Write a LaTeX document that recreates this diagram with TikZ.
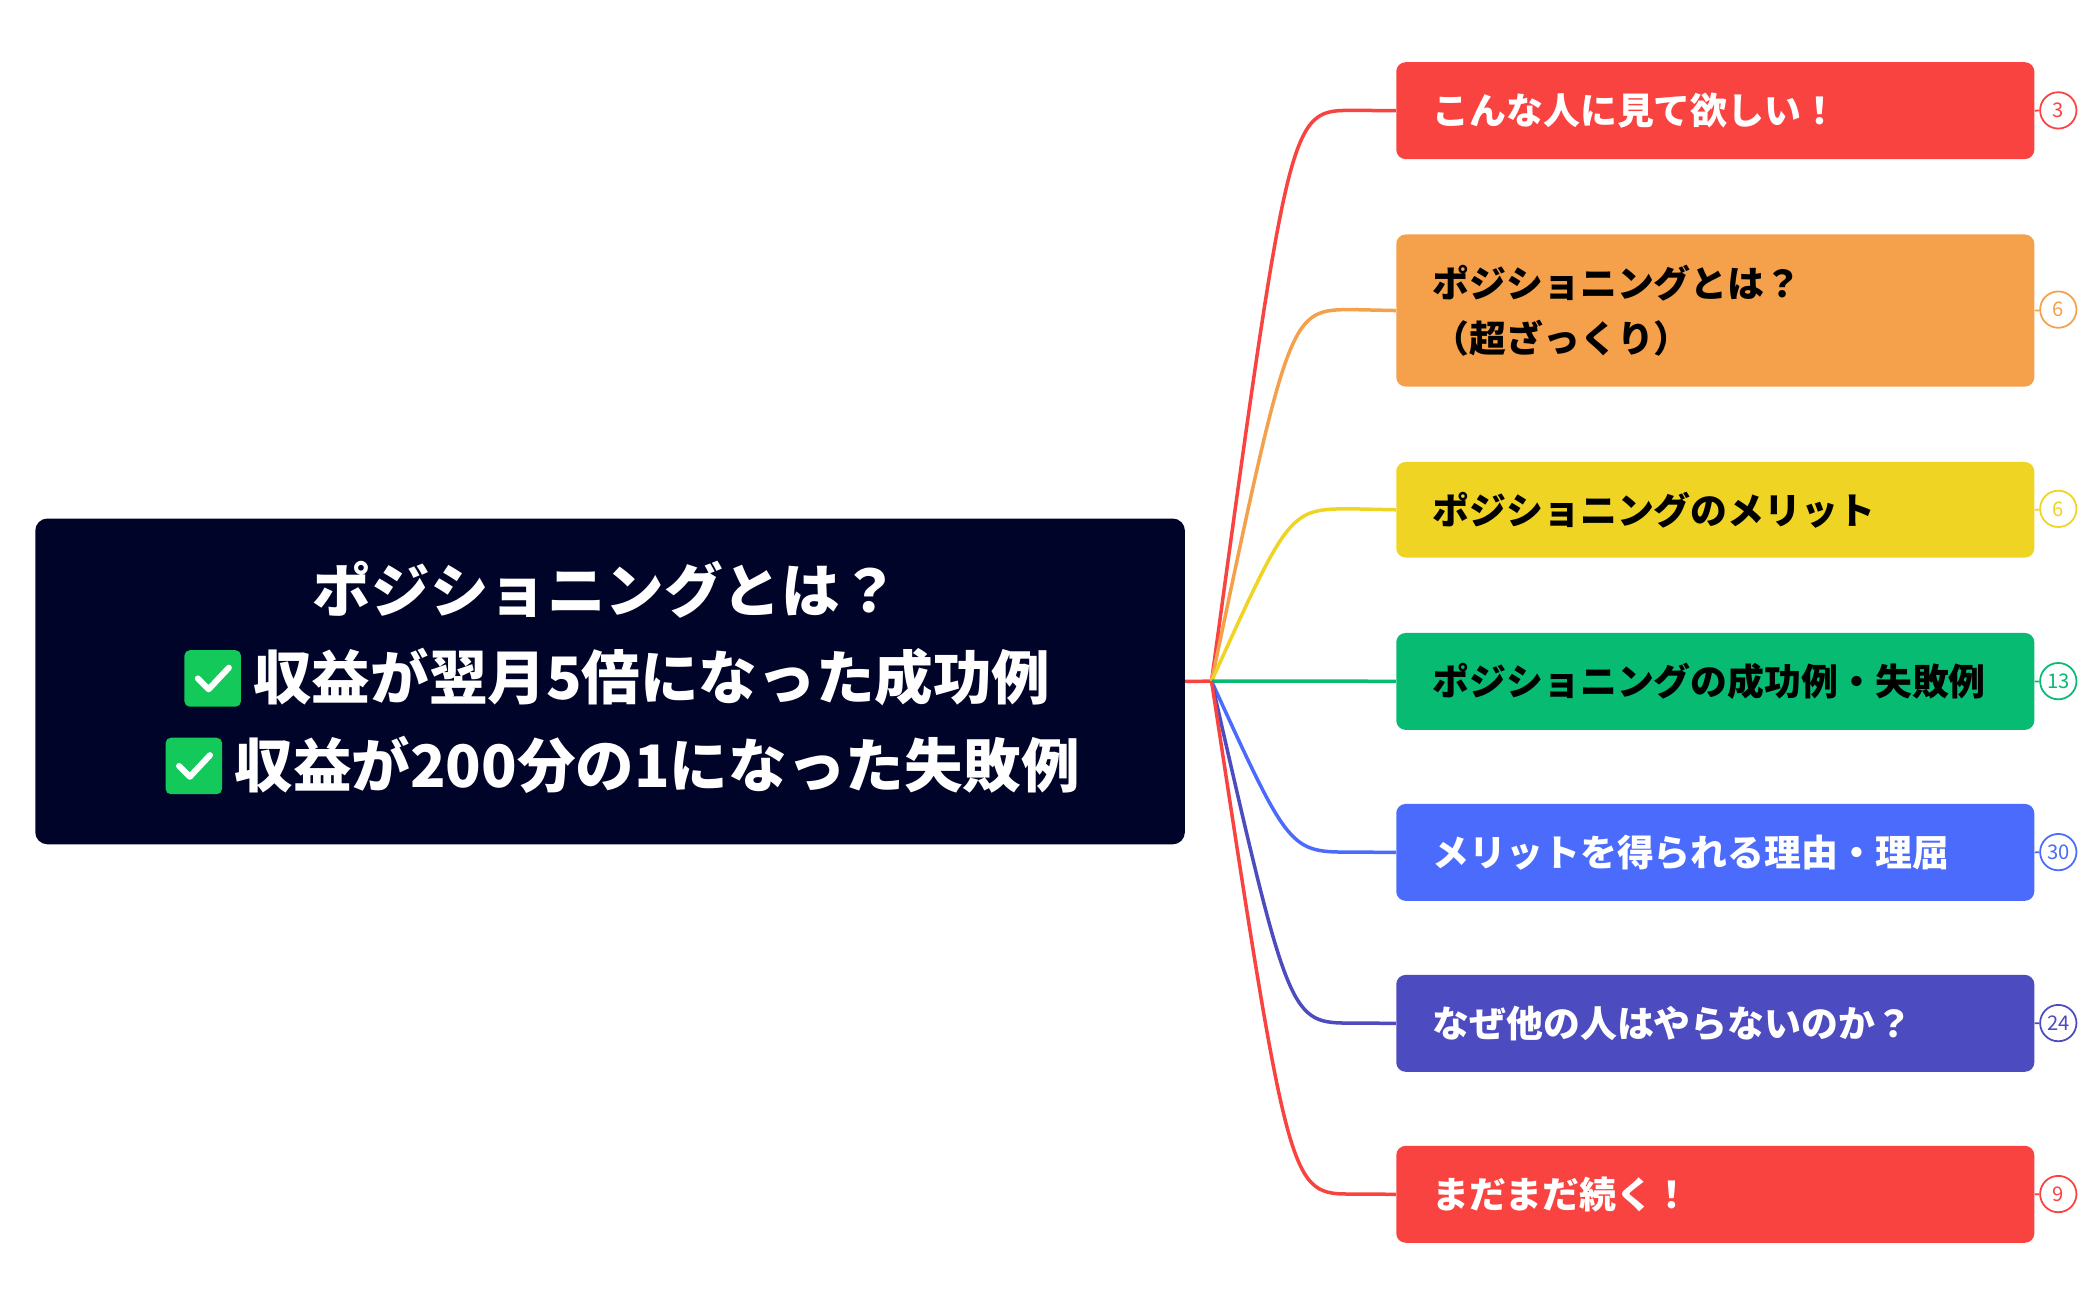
\documentclass[tikz,border=0pt]{standalone}
\usepackage{fontspec}
\usetikzlibrary{calc}
\newfontfamily\cjk{Noto Sans CJK JP}
\definecolor{navy}{HTML}{000429}
\definecolor{cred}{HTML}{F94340}
\definecolor{corange}{HTML}{F5A04A}
\definecolor{cyellow}{HTML}{F0D423}
\definecolor{cgreen}{HTML}{07BB72}
\definecolor{cblue}{HTML}{4A6BFB}
\definecolor{cindigo}{HTML}{4C4BBF}
\definecolor{ccheck}{HTML}{12C95A}
\begin{document}
\begin{tikzpicture}[x=1pt,y=-1pt,
  br/.style={rounded corners=7pt,minimum width=474pt,text width=420pt,align=left,inner xsep=27pt,anchor=north west,font=\cjk\bfseries\fontsize{27.4}{41}\selectfont},
  badge/.style={circle,draw=#1,fill=white,minimum size=27pt,inner sep=0pt,line width=1.3pt,text=#1,font=\cjk\fontsize{15}{15}\selectfont},
  conn/.style={line width=2.6pt},
  chk/.style={fill=ccheck,rounded corners=4pt,minimum size=42pt,inner sep=0pt},
  big/.style={text=white,inner sep=0pt,font=\cjk\bfseries\fontsize{43.5}{43.5}\selectfont}]
\useasboundingbox (0,0) rectangle (1560,965);
\node[fill=navy,rounded corners=9pt,minimum width=854pt,minimum height=242pt,anchor=north west] (main) at (26,385) {};
\node[big] (t1) at (450,438) {ポジショニングとは？};
\node[chk] (c1) at (158,504) {};
\node[chk] (c2) at (144,569) {};
\foreach \c in {c1,c2}{\draw[white,line width=4.5pt,line cap=round,line join=round] ($(\c)+(-11,0)$) -- ($(\c)+(-3,8)$) -- ($(\c)+(12,-8)$);}
\node[big,anchor=west] (t2) at (188,503) {収益が翌月5倍になった成功例};
\node[big,anchor=west] (t3) at (174,568) {収益が200分の1になった失敗例};
\coordinate (hub) at (900,506);
\draw[cred,conn] (main.east) -- (hub);
\node[br,fill=cred,text=white,minimum height=72pt] (b1) at (1037,46) {こんな人に見て欲しい！};
\node[br,fill=corange,text=black,minimum height=113pt] (b2) at (1037,174) {ポジショニングとは？\\（超ざっくり）};
\node[br,fill=cyellow,text=black,minimum height=71pt] (b3) at (1037,343) {ポジショニングのメリット};
\node[br,fill=cgreen,text=black,minimum height=72pt] (b4) at (1037,470) {ポジショニングの成功例・失敗例};
\node[br,fill=cblue,text=white,minimum height=72pt] (b5) at (1037,597) {メリットを得られる理由・理屈};
\node[br,fill=cindigo,text=white,minimum height=72pt] (b6) at (1037,724) {なぜ他の人はやらないのか？};
\node[br,fill=cred,text=white,minimum height=72pt] (b7) at (1037,851) {まだまだ続く！};
\foreach \b/\col/\n/\y in {b1/cred/3/82,b2/corange/6/230,b3/cyellow/6/378,b4/cgreen/13/506,b5/cblue/30/633,b6/cindigo/24/760,b7/cred/9/887}{
  \draw[\col,conn] (hub) .. controls (958,\y) .. (1005,\y) -- (\b.west);
  \node[badge=\col] (k\b) at (1529,\y) {\n};
  \draw[\col,line width=1.3pt] (\b.east) -- (k\b);
}
\end{tikzpicture}
\end{document}
